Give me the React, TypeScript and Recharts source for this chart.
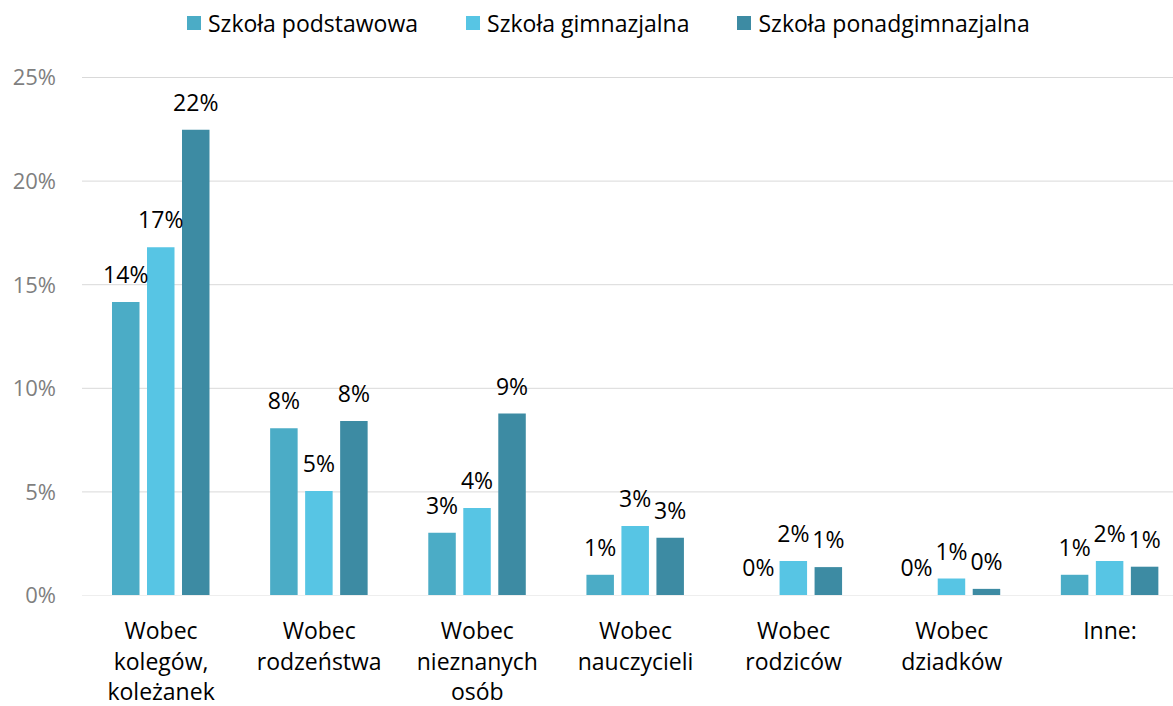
import { BarChart, Bar, XAxis, YAxis, CartesianGrid, Legend, LabelList } from "recharts";

const categories = [
  "Wobec\nkolegów,\nkoleżanek",
  "Wobec\nrodzeństwa",
  "Wobec\nnieznanych\nosób",
  "Wobec\nnauczycieli",
  "Wobec\nrodziców",
  "Wobec\ndziadków",
  "Inne:",
];

const podstawowa = [14.17, 8.07, 3.03, 1.0, 0, 0, 1.0];
const gimnazjalna = [16.81, 5.04, 4.22, 3.35, 1.66, 0.82, 1.66];
const ponadgimnazjalna = [22.48, 8.42, 8.78, 2.79, 1.37, 0.32, 1.39];

const yTicks = [0, 5, 10, 15, 20, 25];

const seriesNames = ["Szkoła podstawowa", "Szkoła gimnazjalna", "Szkoła ponadgimnazjalna"];
const colors = ["#4bacc6", "#57c5e4", "#3d8ba3"];

const data = categories.map((name, i) => ({
  name,
  a: podstawowa[i],
  b: gimnazjalna[i],
  c: ponadgimnazjalna[i],
}));

const font = "'Open Sans', sans-serif";

const CategoryTick = (props: any) => {
  const { x, y, payload } = props;
  const lines = String(payload.value).split("\n");
  return (
    <text x={x} y={y} textAnchor="middle" fill="#000" fontSize={23} fontFamily={font}>
      {lines.map((line, i) => (
        <tspan key={i} x={x} y={y + 43.5 + i * 30.5}>
          {line}
        </tspan>
      ))}
    </text>
  );
};

const LegendContent = () => (
  <div style={{ display: "flex", alignItems: "center", height: 30, fontFamily: font, fontSize: 23, lineHeight: "30px", color: "#000" }}>
    {seriesNames.map((s, i) => (
      <div key={s} style={{ display: "flex", alignItems: "center", marginRight: 48 }}>
        <span style={{ display: "inline-block", width: 14, height: 14, background: colors[i], marginRight: 7 }} />
        <span style={{ whiteSpace: "nowrap" }}>{s}</span>
      </div>
    ))}
  </div>
);

export default function App() {
  const fmt = (v: any) => `${Math.round(Number(v))}%`;
  return (
    <div style={{ position: "absolute", left: 0, top: 0, width: 1173, height: 706, overflow: "hidden", background: "#fff" }}>
      <BarChart
        width={1189}
        height={706}
        data={data}
        margin={{ top: 77.5, right: 0, left: 0, bottom: 0 }}
        barSize={27.5}
        barGap={7.5}
      >
        <CartesianGrid vertical={false} stroke="#d9d9d9" />
        <XAxis
          dataKey="name"
          height={110.5}
          tickLine={false}
          tickSize={0}
          tickMargin={0}
          axisLine={{ stroke: "#eeeeee" }}
          interval={0}
          tick={<CategoryTick />}
        />
        <YAxis
          width={82}
          domain={[0, 25]}
          ticks={yTicks}
          tickFormatter={(v) => `${v}%`}
          axisLine={false}
          tickLine={false}
          tickSize={0}
          tickMargin={26}
          tick={{ fill: "#7f7f7f", fontSize: 22, fontFamily: font }}
        />
        <Legend
          layout="horizontal"
          verticalAlign="middle"
          align="center"
          wrapperStyle={{ top: 8, left: 187, width: 1000, height: 30 }}
          content={<LegendContent />}
        />
        <Bar dataKey="a" name={seriesNames[0]} fill={colors[0]} minPointSize={0.01} isAnimationActive={false}>
          <LabelList dataKey="a" position="top" offset={19} formatter={fmt} fill="#000" fontSize={23} fontFamily={font} />
        </Bar>
        <Bar dataKey="b" name={seriesNames[1]} fill={colors[1]} minPointSize={0.01} isAnimationActive={false}>
          <LabelList dataKey="b" position="top" offset={19} formatter={fmt} fill="#000" fontSize={23} fontFamily={font} />
        </Bar>
        <Bar dataKey="c" name={seriesNames[2]} fill={colors[2]} minPointSize={0.01} isAnimationActive={false}>
          <LabelList dataKey="c" position="top" offset={19} formatter={fmt} fill="#000" fontSize={23} fontFamily={font} />
        </Bar>
      </BarChart>
    </div>
  );
}
